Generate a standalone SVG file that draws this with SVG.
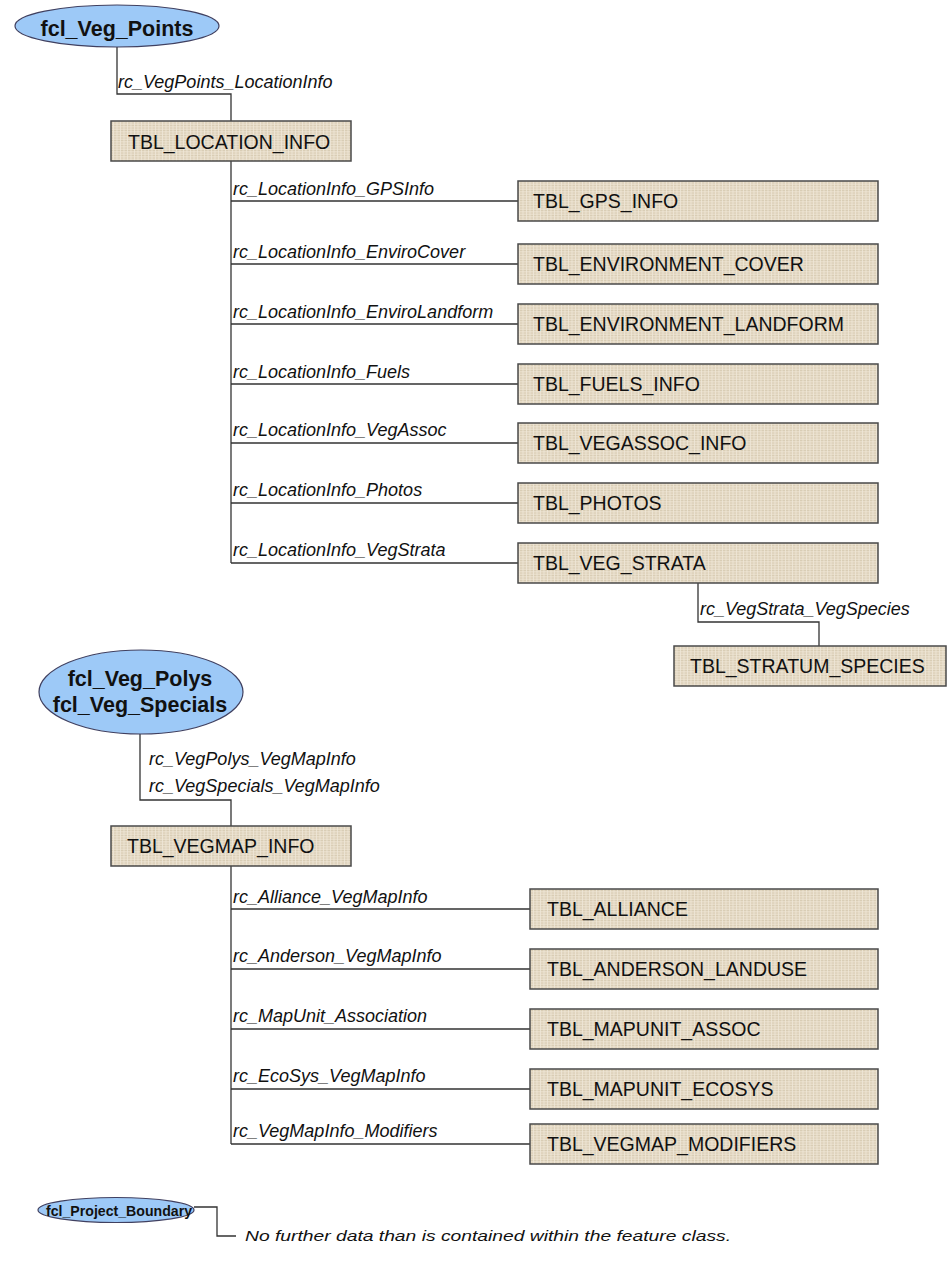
<svg xmlns="http://www.w3.org/2000/svg" width="950" height="1262" viewBox="0 0 950 1262">
<defs>
<pattern id="tex" width="7" height="5" patternUnits="userSpaceOnUse">
<rect width="7" height="5" fill="#e7dcc8"/>
<path d="M0 0.5H7M0 3H7" stroke="#d6c9b0" stroke-width="0.8"/>
<path d="M1.5 0V5M5 0V5" stroke="#efe7d8" stroke-width="0.8"/>
</pattern>
<style>
.box{fill:url(#tex);stroke:#4a4a4a;stroke-width:1.5}
.fc{fill:#9dc9f7;stroke:#404060;stroke-width:1.2}
.bt{font-family:"Liberation Sans",Arial,sans-serif;font-size:19.5px;fill:#111}
.ft{font-family:"Liberation Sans",Arial,sans-serif;font-weight:bold;font-size:21.5px;fill:#111;text-anchor:middle}
.lb{font-family:"Liberation Sans",Arial,sans-serif;font-style:italic;font-size:18px;fill:#111}
.cn{fill:none;stroke:#333;stroke-width:1.3}
</style>
</defs>
<rect width="950" height="1262" fill="#fff"/>

<g id="connectors">
<path class="cn" d="M117 47V94H231V121"/>
<path class="cn" d="M231 161V563"/>
<path class="cn" d="M231 201H518M231 264H518M231 324H518M231 384H518M231 443H518M231 503H518M231 563H518"/>
<path class="cn" d="M698 583V622H819V646"/>
<path class="cn" d="M140 734V800H231V826"/>
<path class="cn" d="M231 866V1144"/>
<path class="cn" d="M231 909H530M231 969H530M231 1029H530M231 1089H530M231 1144H530"/>
<path class="cn" d="M194 1207H217V1236H236"/>
<text class="lb" x="118" y="88">rc_VegPoints_LocationInfo</text>
<text class="lb" x="233" y="195">rc_LocationInfo_GPSInfo</text>
<text class="lb" x="233" y="258">rc_LocationInfo_EnviroCover</text>
<text class="lb" x="233" y="318">rc_LocationInfo_EnviroLandform</text>
<text class="lb" x="233" y="378">rc_LocationInfo_Fuels</text>
<text class="lb" x="233" y="436">rc_LocationInfo_VegAssoc</text>
<text class="lb" x="233" y="496">rc_LocationInfo_Photos</text>
<text class="lb" x="233" y="556">rc_LocationInfo_VegStrata</text>
<text class="lb" x="700" y="615">rc_VegStrata_VegSpecies</text>
<text class="lb" x="149" y="765">rc_VegPolys_VegMapInfo</text>
<text class="lb" x="149" y="792">rc_VegSpecials_VegMapInfo</text>
<text class="lb" x="233" y="903">rc_Alliance_VegMapInfo</text>
<text class="lb" x="233" y="962">rc_Anderson_VegMapInfo</text>
<text class="lb" x="233" y="1022">rc_MapUnit_Association</text>
<text class="lb" x="233" y="1082">rc_EcoSys_VegMapInfo</text>
<text class="lb" x="233" y="1137">rc_VegMapInfo_Modifiers</text>
<text class="lb" x="245" y="1241" style="font-size:15px" textLength="486" lengthAdjust="spacingAndGlyphs">No further data than is contained within the feature class.</text>
</g>

<g id="fcl_Veg_Points"><ellipse class="fc" cx="117" cy="26" rx="102" ry="21"/><text class="ft" x="117" y="36">fcl_Veg_Points</text></g>
<g id="TBL_LOCATION_INFO"><rect class="box" x="111" y="121" width="240" height="40"/><text class="bt" x="128" y="148.5">TBL_LOCATION_INFO</text></g>
<g id="TBL_GPS_INFO"><rect class="box" x="518" y="181" width="360" height="40"/><text class="bt" x="533" y="208">TBL_GPS_INFO</text></g>
<g id="TBL_ENVIRONMENT_COVER"><rect class="box" x="518" y="244" width="360" height="40"/><text class="bt" x="533" y="271">TBL_ENVIRONMENT_COVER</text></g>
<g id="TBL_ENVIRONMENT_LANDFORM"><rect class="box" x="518" y="304" width="360" height="40"/><text class="bt" x="533" y="331">TBL_ENVIRONMENT_LANDFORM</text></g>
<g id="TBL_FUELS_INFO"><rect class="box" x="518" y="364" width="360" height="40"/><text class="bt" x="533" y="391">TBL_FUELS_INFO</text></g>
<g id="TBL_VEGASSOC_INFO"><rect class="box" x="518" y="423" width="360" height="40"/><text class="bt" x="533" y="450">TBL_VEGASSOC_INFO</text></g>
<g id="TBL_PHOTOS"><rect class="box" x="518" y="483" width="360" height="40"/><text class="bt" x="533" y="510">TBL_PHOTOS</text></g>
<g id="TBL_VEG_STRATA"><rect class="box" x="518" y="543" width="360" height="40"/><text class="bt" x="533" y="570">TBL_VEG_STRATA</text></g>
<g id="TBL_STRATUM_SPECIES"><rect class="box" x="674" y="646" width="272" height="40"/><text class="bt" x="690" y="673">TBL_STRATUM_SPECIES</text></g>

<g id="fcl_Veg_Polys_Specials"><ellipse class="fc" cx="141" cy="692" rx="102" ry="42"/><text class="ft" x="140" y="686">fcl_Veg_Polys</text><text class="ft" x="140" y="712">fcl_Veg_Specials</text></g>
<g id="TBL_VEGMAP_INFO"><rect class="box" x="111" y="826" width="240" height="40"/><text class="bt" x="127" y="853">TBL_VEGMAP_INFO</text></g>
<g id="TBL_ALLIANCE"><rect class="box" x="530" y="889" width="348" height="40"/><text class="bt" x="547" y="916">TBL_ALLIANCE</text></g>
<g id="TBL_ANDERSON_LANDUSE"><rect class="box" x="530" y="949" width="348" height="40"/><text class="bt" x="547" y="976">TBL_ANDERSON_LANDUSE</text></g>
<g id="TBL_MAPUNIT_ASSOC"><rect class="box" x="530" y="1009" width="348" height="40"/><text class="bt" x="547" y="1036">TBL_MAPUNIT_ASSOC</text></g>
<g id="TBL_MAPUNIT_ECOSYS"><rect class="box" x="530" y="1069" width="348" height="40"/><text class="bt" x="547" y="1096">TBL_MAPUNIT_ECOSYS</text></g>
<g id="TBL_VEGMAP_MODIFIERS"><rect class="box" x="530" y="1124" width="348" height="40"/><text class="bt" x="547" y="1151">TBL_VEGMAP_MODIFIERS</text></g>

<g id="fcl_Project_Boundary"><ellipse class="fc" cx="116" cy="1210" rx="78" ry="12.5"/><text class="ft" x="119" y="1215.5" style="font-size:15px" textLength="146" lengthAdjust="spacingAndGlyphs">fcl_Project_Boundary</text></g>
</svg>
